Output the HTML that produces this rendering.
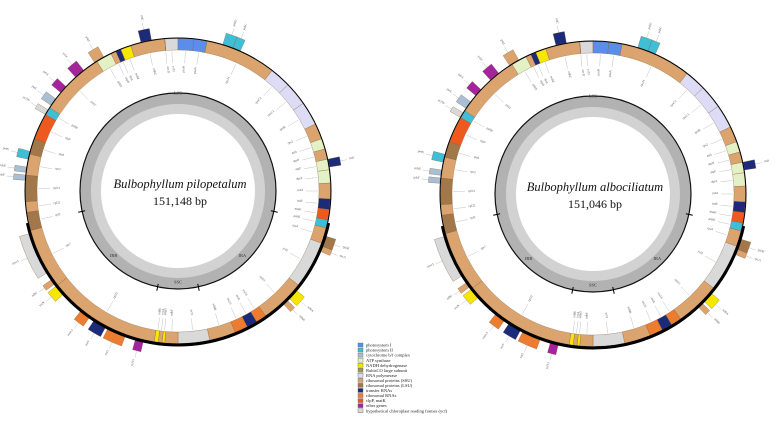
<!DOCTYPE html>
<html><head><meta charset="utf-8"><style>
html,body{margin:0;padding:0;background:#fff;}
svg{display:block;font-family:"Liberation Serif",serif;}
</style></head><body>
<svg id="chart" width="777" height="426" viewBox="0 0 777 426" xmlns="http://www.w3.org/2000/svg">
<g id="legend"></g>
</svg>
<script>
// category colors
const types = ['psi','psii','cytb','atp','nadh','rbcl','rpo','ssu','lsu','trna','rrna','clp','other','ycf'];
const typeLabels = ['photosystem I','photosystem II','cytochrome b/f complex','ATP synthase','NADH dehydrogenase','RubisCO large subunit','RNA polymerase','ribosomal proteins (SSU)','ribosomal proteins (LSU)','transfer RNAs','ribosomal RNAs','clpP, matK','other genes','hypothetical chloroplast reading frames (ycf)'];
const typeColors = ['#5b8ee8','#3fbfd6','#a9bfd6','#e3f1c4','#f7e600','#9c9a50','#dcdcf6','#dba46e','#a2784a','#1c2a7a','#ec7c30','#ee5a1e','#a3249c','#d9d9d9'];
// genes inside band: names, start deg, end deg, type
const inNames = ['ycf3','psaB','psaA','rps14','rpoC2','rpoC1','rpoB','rps2','atpI','atpH','atpF','atpA','psbI','trnR','matK','psbK','rps4','ycf2','rpl23','rrn16','trnA','rrn23','ndhB','ycf1','ndhF','ndhD','ccsA','ndhE','rpl32','rps7','rpl2','rpl22','rpl14','rps3','rps8','clpP','psbB','psbT','psbN','atpB','rbcL','trnM','ndhC','accD'];
const inStart = [-5,0,6,11,38,46,55,64,70,74,78,82,87,93,97,101,104,110,128,145,149,153,158,168,180,185,186,187.5,189,232,255,262,266,276,284,290,300,303,328,334,336,338,342,355];
const inEnd   = [0,6,11,38,46,55,64,70,74,78,82,87,93,97,101,104,110,128,145,149,153,158,168,180,185,186,187.5,189,232,255,262,266,276,284,290,300,303,328,334,336,338,342,355,355];
const inType  = ['ycf','psi','psi','ssu','rpo','rpo','rpo','ssu','atp','ssu','atp','atp','ssu','trna','clp','psii','ssu','ycf','ssu','rrna','trna','rrna','ssu','ycf','ssu','nadh','ssu','nadh','ssu','ssu','lsu','ssu','lsu','ssu','lsu','clp','psii','ssu','atp','ssu','trna','nadh','ssu','ssu'];
// genes outside band
const outNames = ['trnC','psbD','psbC','ycf4','petA','psbJ','petL','petG','psbE','psbF','trnS','rpl36','rps11','ndhA','ndhH','ycf15','rrn5','trnV','rrn4.5','trnN','ndhI','rps15','ycf1b'];
const outStart = [-14,17,21,-42,-50,-33,-56,-78,-83,-86,78,107,111,130,135,193,200,208,215,228,233,238,-60];
const outEnd   = [-10,21,24,-38,-47,-29,-53,-75,-81,-84,81,111,113,134,137,196,207,213,219,232,235,254,-58];
const outType  = ['trna','psii','psii','other','other','ssu','cytb','psii','cytb','cytb','trna','lsu','ssu','nadh','ssu','other','rrna','trna','rrna','nadh','ssu','ycf','ycf'];
// region boundaries (deg) and labels
const regionTicks = [102,168,192,258];
const regionNames = ['LSC','IRA','SSC','IRB'];
const regionAngles = [0,135,180,225];
const genomes = [
  {title:'Bulbophyllum pilopetalum', size:'151,148 bp', cx:178, cy:191},
  {title:'Bulbophyllum albociliatum', size:'151,046 bp', cx:593, cy:194}
];
const NS='http://www.w3.org/2000/svg';
const svg=document.getElementById('chart');
function mk(tag,attrs,parent){const e=document.createElementNS(NS,tag);for(const k in attrs)e.setAttribute(k,attrs[k]);(parent||svg).appendChild(e);return e;}
function pt(cx,cy,r,a){const t=a*Math.PI/180;return [cx+r*Math.sin(t),cy-r*Math.cos(t)];}
function sector(cx,cy,r0,r1,a0,a1){
  const p1=pt(cx,cy,r1,a0),p2=pt(cx,cy,r1,a1),p3=pt(cx,cy,r0,a1),p4=pt(cx,cy,r0,a0);
  const lg=(a1-a0)>180?1:0;
  return `M${p1[0]},${p1[1]}A${r1},${r1} 0 ${lg} 1 ${p2[0]},${p2[1]}L${p3[0]},${p3[1]}A${r0},${r0} 0 ${lg} 0 ${p4[0]},${p4[1]}Z`;
}
function arc(cx,cy,r,a0,a1){const p1=pt(cx,cy,r,a0),p2=pt(cx,cy,r,a1);const lg=(a1-a0)>180?1:0;return `M${p1[0]},${p1[1]}A${r},${r} 0 ${lg} 1 ${p2[0]},${p2[1]}`;}
function color(t){return typeColors[types.indexOf(t)];}

genomes.forEach((g,gi)=>{
  const G=mk('g',{});
  
  
  const cx=g.cx,cy=g.cy;
  const gc=mk('path',{d:sector(cx,cy,77,98,0,359.99),fill:'#d2d2d2'},G);
  
  
  const gc2=mk('path',{d:sector(cx,cy,87,98,0,359.99),fill:'#b2b2b2'},G);
  
  
  mk('circle',{cx:cx,cy:cy,r:98,fill:'none',stroke:'#111','stroke-width':1.2},G);
  regionTicks.forEach(a=>{const p=pt(cx,cy,95,a),q=pt(cx,cy,102,a);
    const l=mk('line',{x1:p[0],y1:p[1],x2:q[0],y2:q[1],stroke:'#000','stroke-width':1},G);
    
    });
  regionNames.forEach((n,i)=>{const p=pt(cx,cy,regionAngles[i]===0?98:91,regionAngles[i]);
    const t=mk('text',{x:p[0],y:p[1]+1.5,'font-size':4.5,'text-anchor':'middle',fill:'#333'},G);t.textContent=n;
    
    });
  inNames.forEach((n,i)=>{
    const p=mk('path',{d:sector(cx,cy,141,152.5,inStart[i],inEnd[i]),fill:color(inType[i]),stroke:'#7a5a3a','stroke-width':0.3},G);
    
    
    const m=(inStart[i]+inEnd[i])/2;const a=pt(cx,cy,140,m),b=pt(cx,cy,128,m);
    mk('line',{x1:a[0],y1:a[1],x2:b[0],y2:b[1],stroke:'#999','stroke-width':0.3},G);
    const c=pt(cx,cy,125,m);let rot=m-90;let anc='end';if(m%360>180||m<0){rot=m+90;anc='start';}
    const t=mk('text',{x:c[0],y:c[1],'font-size':3.2,'text-anchor':anc,fill:'#555',transform:`rotate(${rot} ${c[0]} ${c[1]})`},G);t.textContent=n;
    
    
  });
  outNames.forEach((n,i)=>{
    const p=mk('path',{d:sector(cx,cy,153.5,165,outStart[i],outEnd[i]),fill:color(outType[i]),stroke:'#7a5a3a','stroke-width':0.3},G);
    
    
    const m=(outStart[i]+outEnd[i])/2;const a=pt(cx,cy,165,m),b=pt(cx,cy,172,m);
    mk('line',{x1:a[0],y1:a[1],x2:b[0],y2:b[1],stroke:'#999','stroke-width':0.3},G);
    const c=pt(cx,cy,174,m);let mm=((m%360)+360)%360;let rot=m-90;let anc='start';if(mm>180){rot=m+90;anc='end';}
    const t=mk('text',{x:c[0],y:c[1],'font-size':3.2,'text-anchor':anc,fill:'#555',transform:`rotate(${rot} ${c[0]} ${c[1]})`},G);t.textContent=n;
    
    
  });
  const bb=mk('circle',{cx:cx,cy:cy,r:153,fill:'none',stroke:'#000','stroke-width':1},G);
  
  
  const ir=mk('path',{d:arc(cx,cy,154,regionTicks[0],regionTicks[3]),fill:'none',stroke:'#000','stroke-width':3},G);
  
  
  const tt=mk('text',{x:cx+2,y:cy-3,'font-size':12.5,'font-style':'italic','text-anchor':'middle',fill:'#111'},G);tt.textContent=g.title;
  
  
  const ts=mk('text',{x:cx+2,y:cy+14,'font-size':12,'text-anchor':'middle',fill:'#111'},G);ts.textContent=g.size;
  
  
});
const L=document.getElementById('legend');
types.forEach((t,i)=>{
  const y=343+i*5.05;
  const r=mk('rect',{x:358,y:y,width:5,height:4,fill:typeColors[i],stroke:'#666','stroke-width':0.4},L);
  
  
  const tx=mk('text',{x:366,y:y+3.6,'font-size':4.5,fill:'#222'},L);tx.textContent=typeLabels[i];
  
  
});
</script>
</body></html>
